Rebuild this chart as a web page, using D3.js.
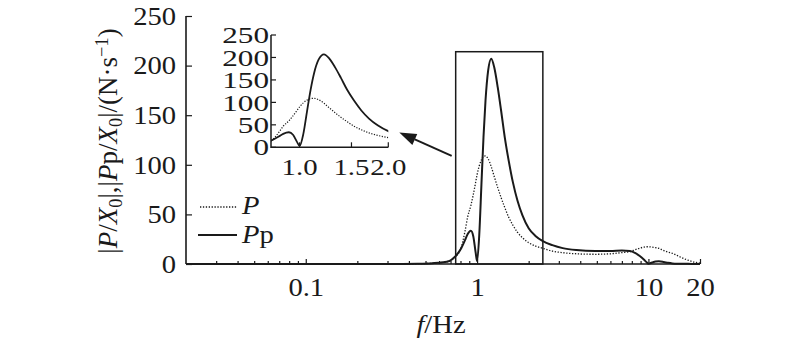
<!DOCTYPE html>
<html>
<head>
<meta charset="utf-8">
<script src="https://cdn.jsdelivr.net/npm/d3@7"></script>
<style>
  html, body { margin: 0; padding: 0; background: #fff; }
  svg { display: block; }
</style>
</head>
<body>
<svg id="chart" width="800" height="342"></svg>
<script>
// ---------- data ----------
const freq = [0.02, 0.3, 0.45, 0.55, 0.62, 0.69, 0.74, 0.8, 0.85, 0.88, 0.92, 0.95, 0.98, 1.0, 1.03, 1.06, 1.09, 1.12, 1.16, 1.21, 1.26, 1.32, 1.38, 1.45, 1.53, 1.62, 1.72, 1.84, 2.0, 2.2, 2.42, 2.75, 3.16, 3.8, 4.9, 6.0, 7.0, 7.8, 8.4, 8.9, 9.4, 9.8, 10.0, 10.5, 11.0, 11.5, 12.3, 13.0, 13.8, 15, 16.5, 18, 20];
const pVals = [0, 0, 0.3, 0.8, 1.5, 3, 7, 14.5, 33, 47, 59, 70, 82, 90, 99, 105, 108.5, 109, 106, 98, 88, 77, 67, 57, 47, 39, 32, 26.5, 21.5, 18, 15.8, 13, 11.4, 10.3, 9.8, 10.3, 11.5, 12.5, 14.5, 16, 17, 17.4, 17.4, 17, 16.5, 15.8, 13.5, 12, 10.8, 7.8, 4.7, 2.5, 0.8];
const ppVals = [0, 0, 0.3, 0.8, 1.5, 3, 7, 14.5, 24, 30, 33.5, 28, 12, 3, 30, 80, 128, 165, 195, 207, 198, 178, 155, 128, 104, 82, 64, 49, 36, 28, 23, 19, 16, 14, 13, 13, 13.5, 13.2, 11, 8, 4.5, 1.5, 0.3, 1.5, 2.5, 2.7, 2, 1.2, 0.6, 0.3, 0.2, 0.1, 0.1];

const yTicks = [0, 50, 100, 150, 200, 250];
const xMajorTicks = [0.1, 1, 10, 20];
const xMajorLabels = ["0.1", "1", "10", "20"];
const xMinorTicks = [0.03, 0.04, 0.05, 0.06, 0.07, 0.08, 0.09, 0.2, 0.3, 0.4, 0.5, 0.6, 0.7, 0.8, 0.9, 2, 3, 4, 5, 6, 7, 8, 9];
const insetYTicks = [0, 50, 100, 150, 200, 250];
const insetXTicks = [1.0, 1.5, 2.0];
const insetXLabels = ["1.0", "1.5", "2.0"];
const zoomBox = { f0: 0.75, f1: 2.42, top: 214 };

// ---------- layout ----------
const FONT = "'Liberation Serif'";
const INK = "#1a1a1a";
const svg = d3.select("#chart");
const SX = 1.1;       // horizontal glyph stretch of the reference
const FS = 26;
const x = d3.scaleLog().domain([0.02, 20]).range([186, 700]);
const y = d3.scaleLinear().domain([0, 250]).range([264, 16]);

const ix = d3.scaleLog().domain([0.8, 2.0]).range([271, 388.3]);
const iy = d3.scaleLinear().domain([0, 250]).range([147.3, 35]);

const pts = freq.map((f, i) => ({ f, p: pVals[i], pp: ppVals[i] }));

// ---------- main axes ----------
const gx = svg.append("g").attr("transform", `translate(0,${y(0)})`);
gx.call(d3.axisBottom(x).tickValues(xMinorTicks).tickSizeInner(-3).tickSizeOuter(0).tickFormat(""));
gx.select(".domain").remove();
gx.selectAll("line").attr("stroke", INK).attr("stroke-width", 1.2);

const gx2 = svg.append("g").attr("transform", `translate(0,${y(0)})`);
gx2.call(d3.axisBottom(x).tickValues(xMajorTicks).tickSizeInner(-5).tickSizeOuter(0).tickPadding(14)
  .tickFormat((d, i) => xMajorLabels[i]));
gx2.select(".domain").attr("stroke", INK).attr("stroke-width", 1.6)
  .attr("d", `M${x.range()[0]},0H${x.range()[1]}`);
gx2.selectAll("line").attr("stroke", INK).attr("stroke-width", 1.2);
gx2.selectAll("text").attr("font-size", FS).attr("transform", `scale(${SX},1)`);

const gy = svg.append("g").attr("transform", `translate(${x(0.02)},0)`);
gy.call(d3.axisLeft(y).tickValues(yTicks).tickSizeInner(-6).tickSizeOuter(0).tickPadding(9));
gy.select(".domain").attr("stroke", INK).attr("stroke-width", 1.6)
  .attr("d", `M0,${y.range()[0]}V${y.range()[1]}`);
gy.selectAll("line").attr("stroke", INK).attr("stroke-width", 1.2);
gy.selectAll("text").attr("font-size", FS).attr("transform", `scale(${SX},1)`);

// ---------- main curves ----------
const lineP = d3.line().x(d => x(d.f)).y(d => y(d.p)).curve(d3.curveMonotoneX);
const linePP = d3.line().x(d => x(d.f)).y(d => y(d.pp)).curve(d3.curveMonotoneX);

svg.append("path").datum(pts).attr("d", lineP)
  .attr("fill", "none").attr("stroke", INK).attr("stroke-width", 1.3).attr("stroke-dasharray", "1.3,1.6");
svg.append("path").datum(pts).attr("d", linePP)
  .attr("fill", "none").attr("stroke", INK).attr("stroke-width", 2);

// zoom box
svg.append("rect")
  .attr("x", x(zoomBox.f0)).attr("y", y(zoomBox.top))
  .attr("width", x(zoomBox.f1) - x(zoomBox.f0)).attr("height", y(0) - y(zoomBox.top))
  .attr("fill", "none").attr("stroke", INK).attr("stroke-width", 1.5);

// ---------- axis titles ----------
const YFS = 27;
const yl = svg.append("text")
  .attr("transform", `translate(117,141) rotate(-90)`)
  .attr("text-anchor", "middle").attr("font-size", YFS);
const addT = (sel, txt, opts = {}) => {
  const t = sel.append("tspan").text(txt);
  if (opts.it) t.attr("font-style", "italic");
  if (opts.sub) t.attr("font-size", YFS * 0.68).attr("dy", 5);
  if (opts.up) t.attr("dy", opts.up);
  if (opts.sup) t.attr("font-size", YFS * 0.68).attr("dy", -9);
  return t;
};
addT(yl, "|");
addT(yl, "P", { it: true });
addT(yl, "/");
addT(yl, "X", { it: true });
addT(yl, "0", { sub: true });
addT(yl, "|,|", { up: -5 });
addT(yl, "P", { it: true });
addT(yl, "p/");
addT(yl, "X", { it: true });
addT(yl, "0", { sub: true });
addT(yl, "|/(N·s", { up: -5 });
addT(yl, "−1", { sup: true });
addT(yl, ")", { up: 9 });

const xl = svg.append("text")
  .attr("transform", `translate(441,333) scale(${SX},1)`)
  .attr("text-anchor", "middle").attr("font-size", FS);
xl.append("tspan").attr("font-style", "italic").text("f");
xl.append("tspan").text("/Hz");

// ---------- legend ----------
const leg = svg.append("g");
leg.append("line").attr("x1", 200).attr("x2", 237).attr("y1", 207).attr("y2", 207)
  .attr("stroke", INK).attr("stroke-width", 1.3).attr("stroke-dasharray", "1.3,1.6");
leg.append("line").attr("x1", 198).attr("x2", 237).attr("y1", 235).attr("y2", 235)
  .attr("stroke", INK).attr("stroke-width", 1.8);
leg.append("text").attr("transform", `translate(242,214) scale(${SX},1)`).attr("font-size", FS)
  .append("tspan").attr("font-style", "italic").text("P");
const t2 = leg.append("text").attr("transform", `translate(242,243) scale(${SX},1)`).attr("font-size", FS);
t2.append("tspan").attr("font-style", "italic").text("P");
t2.append("tspan").text("p");

// ---------- inset ----------
const ins = svg.append("g");
const ISX = 1.3, IXSX = 1.2, IFS = 24;
ins.append("path").attr("d", `M${ix.range()[0]},${iy.range()[1]}V${iy.range()[0]}H${ix.range()[1]}`)
  .attr("fill", "none").attr("stroke", INK).attr("stroke-width", 1.5);
ins.selectAll(".iyt").data(insetYTicks).join("line")
  .attr("x1", ix.range()[0]).attr("x2", ix.range()[0] + 5)
  .attr("y1", d => iy(d)).attr("y2", d => iy(d))
  .attr("stroke", INK).attr("stroke-width", 1.2);
ins.selectAll(".iyl").data(insetYTicks).join("text")
  .attr("transform", d => `translate(${ix.range()[0] - 2},${iy(d)}) scale(${ISX},1)`)
  .attr("text-anchor", "end").attr("dy", "0.34em").attr("font-size", IFS).text(d => d);
ins.selectAll(".ixt").data(insetXTicks).join("line")
  .attr("x1", d => ix(d)).attr("x2", d => ix(d))
  .attr("y1", iy(0)).attr("y2", iy(0) - 5)
  .attr("stroke", INK).attr("stroke-width", 1.2);
ins.selectAll(".ixl").data(insetXTicks).join("text")
  .attr("transform", d => `translate(${ix(d)},175) scale(${IXSX},1)`)
  .attr("text-anchor", "middle").attr("font-size", IFS).text((d, i) => insetXLabels[i]);

const inPts = pts.filter(d => d.f >= 0.74 && d.f <= 2.2);
ins.append("clipPath").attr("id", "iclip").append("rect")
  .attr("x", ix.range()[0]).attr("y", 0).attr("width", ix.range()[1] - ix.range()[0]).attr("height", 200);
const ilP = d3.line().x(d => ix(d.f)).y(d => iy(d.p)).curve(d3.curveMonotoneX);
const ilPP = d3.line().x(d => ix(d.f)).y(d => iy(d.pp)).curve(d3.curveMonotoneX);
ins.append("path").datum(inPts).attr("d", ilP).attr("clip-path", "url(#iclip)")
  .attr("fill", "none").attr("stroke", INK).attr("stroke-width", 1.2).attr("stroke-dasharray", "1.2,1.5");
ins.append("path").datum(inPts).attr("d", ilPP).attr("clip-path", "url(#iclip)")
  .attr("fill", "none").attr("stroke", INK).attr("stroke-width", 1.8);

// ---------- arrow ----------
const ax0 = x(zoomBox.f0) - 4, ay0 = y(109);
const ax1 = ix(2.0) + 11, ay1 = iy(33);
const ang = Math.atan2(ay1 - ay0, ax1 - ax0);
const hl = 17, hw = 6;
const bx = ax1 - hl * Math.cos(ang), by = ay1 - hl * Math.sin(ang);
svg.append("line").attr("x1", ax0).attr("y1", ay0).attr("x2", bx).attr("y2", by)
  .attr("stroke", INK).attr("stroke-width", 2);
svg.append("path")
  .attr("d", `M${ax1},${ay1}L${bx + hw * Math.sin(ang)},${by - hw * Math.cos(ang)}L${bx - hw * Math.sin(ang)},${by + hw * Math.cos(ang)}Z`)
  .attr("fill", INK);

// fonts for every text
svg.selectAll("g").attr("font-family", FONT);
svg.selectAll("text").attr("font-family", FONT).attr("fill", INK);
</script>
</body>
</html>
